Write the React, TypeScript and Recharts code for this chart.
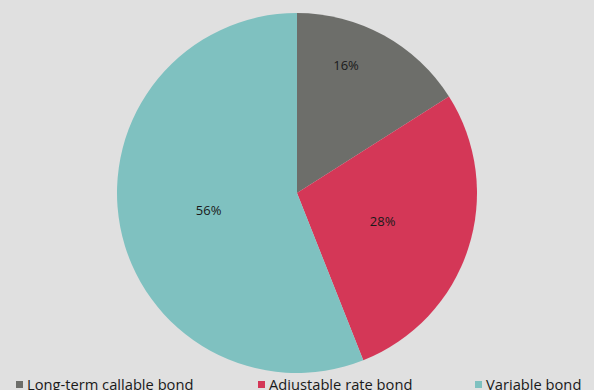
import React from "react";
import { PieChart, Pie, Cell, Legend } from "recharts";

const categories = ["Long-term callable bond", "Adjustable rate bond", "Variable bond"];
const values = [16, 28, 56];
const colors = ["#6d6e6a", "#d43757", "#7fc1c0"];
const labelRadiusFactor = [0.76, 0.5, 0.5];
const labelAngleShift = [7.8, 0, 0];
const legendLefts = [16, 258, 475];

const data = categories.map((name, i) => ({ name, value: values[i] }));

const RADIAN = Math.PI / 180;

const renderLabel = (props: any) => {
  const { cx, cy, midAngle, outerRadius, index, value } = props;
  const r = outerRadius * labelRadiusFactor[index];
  const a = midAngle + labelAngleShift[index];
  const x = cx + r * Math.cos(-a * RADIAN);
  const y = cy + r * Math.sin(-a * RADIAN);
  return (
    <text
      x={x}
      y={y}
      fill="#1a1a1a"
      textAnchor="middle"
      dominantBaseline="central"
      fontSize={13}
      fontFamily="'Open Sans', sans-serif"
    >
      {value}%
    </text>
  );
};

const renderLegend = () => (
  <div style={{ position: "relative", width: 594, height: 20, fontFamily: "'Open Sans', sans-serif" }}>
    {categories.map((c, i) => (
      <div
        key={c}
        style={{
          position: "absolute",
          left: legendLefts[i],
          top: 0,
          display: "flex",
          alignItems: "center",
          whiteSpace: "nowrap",
          fontSize: 14.7,
          color: "#1a1a1a",
          lineHeight: "16px",
        }}
      >
        <span style={{ display: "inline-block", width: 7, height: 7, background: colors[i], marginRight: 4 }} />
        <span>{c}</span>
      </div>
    ))}
  </div>
);

export default function App() {
  return (
    <div style={{ width: 594, height: 390, background: "#e0e0e0", overflow: "hidden", position: "relative" }}>
      <style>{`body{margin:0;}`}</style>
      <PieChart width={594} height={390} margin={{ top: 0, right: 0, bottom: 0, left: 0 }}>
        <Pie
          data={data}
          dataKey="value"
          nameKey="name"
          cx={297}
          cy={193}
          outerRadius={180}
          startAngle={90}
          endAngle={-270}
          stroke="none"
          label={renderLabel}
          labelLine={false}
          isAnimationActive={false}
        >
          {data.map((d, i) => (
            <Cell key={d.name} fill={colors[i]} />
          ))}
        </Pie>
        <Legend content={renderLegend} wrapperStyle={{ position: "absolute", left: 0, top: 376, width: 594 }} />
      </PieChart>
    </div>
  );
}
